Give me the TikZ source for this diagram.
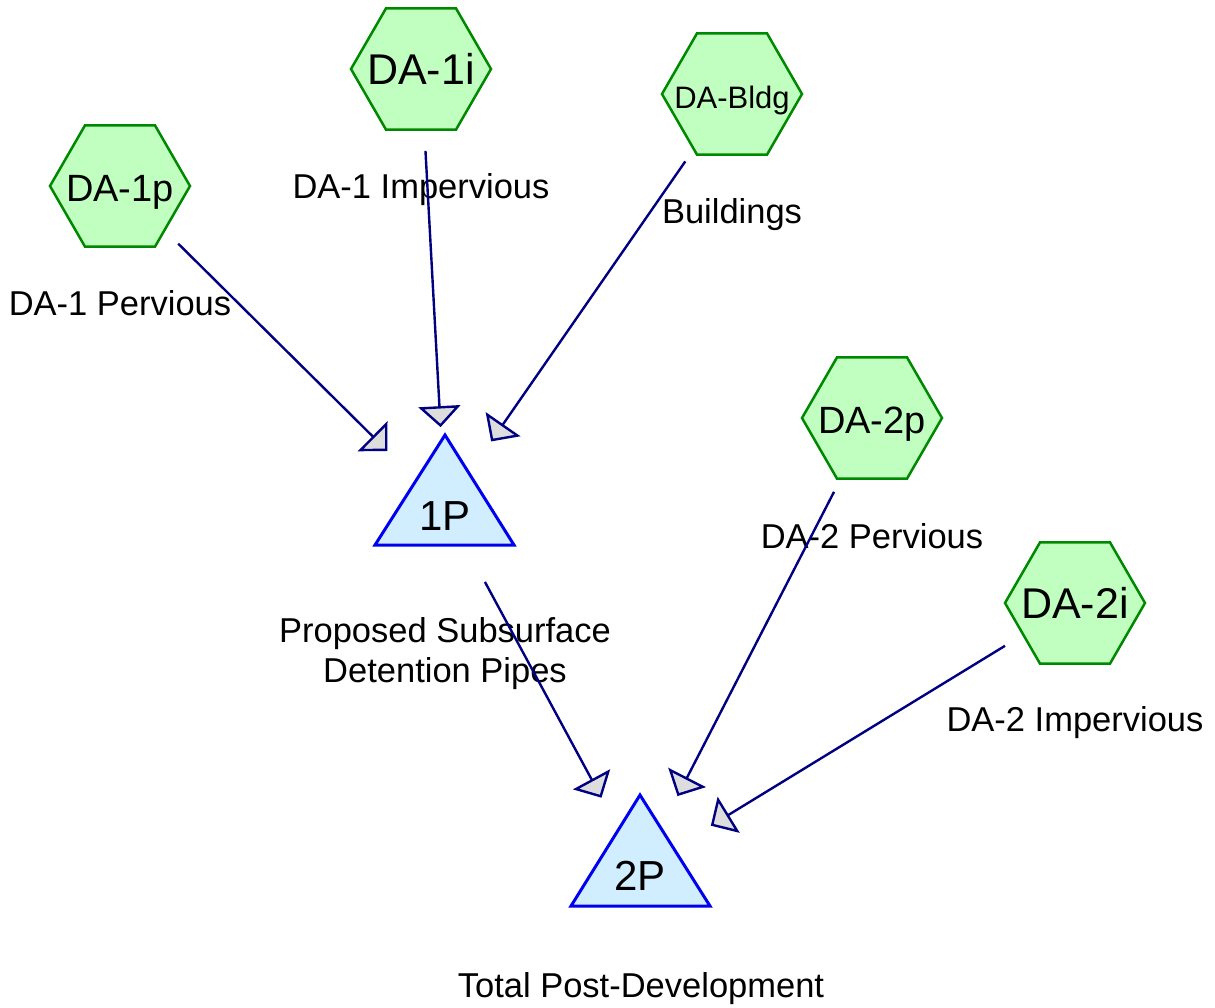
\documentclass[tikz,border=0pt]{standalone}
\usepackage{fontspec}
\setmainfont{Liberation Sans}
\usetikzlibrary{shapes.geometric,arrows.meta}
\definecolor{hexfill}{RGB}{192,255,192}
\definecolor{hexline}{RGB}{0,136,0}
\definecolor{pondfill}{RGB}{208,238,255}
\definecolor{pondline}{RGB}{0,0,240}
\definecolor{navyline}{RGB}{0,0,128}
\definecolor{headfill}{RGB}{221,221,221}
\begin{document}
\begin{tikzpicture}[x=1pt,y=-1pt,
  subcat/.style={regular polygon, regular polygon sides=6, minimum size=140pt,
    inner sep=0pt, draw=hexline, fill=hexfill, line width=2.5pt,
    font=\fontsize{43}{50}\selectfont, text height=31pt, text depth=0pt},
  pond/.style={draw=pondline, fill=pondfill, line width=3pt, line join=miter},
  pondtext/.style={anchor=base, inner sep=0pt, font=\fontsize{42}{50}\selectfont},
  lbl/.style={anchor=base, inner sep=0pt, font=\fontsize{34.5}{40}\selectfont, align=center},
  flow/.style={draw=navyline, line width=2.4pt, shorten <=82pt, shorten >=81pt,
    -{Triangle[length=21pt, width=42pt, fill=headfill]}}]
\useasboundingbox (0,0) rectangle (1215,1007);

% subcatchments
\node[subcat, font=\fontsize{38}{44}\selectfont, text height=31pt] (da1p) at (120,186) {\makebox[0pt]{DA-1p}};
\node[subcat] (da1i) at (421,69) {\makebox[0pt]{DA-1i}};
\node[subcat, font=\fontsize{31}{36}\selectfont, text height=28pt] (dabldg) at (732,94) {\makebox[0pt]{DA-Bldg}};
\node[subcat, font=\fontsize{38}{44}\selectfont, text height=30pt] (da2p) at (872,418) {\makebox[0pt]{DA-2p}};
\node[subcat] (da2i) at (1075,603) {\makebox[0pt]{DA-2i}};

% ponds
\coordinate (p1) at (445,508);
\coordinate (p2) at (640,869);
\draw[pond] (445,435) -- (514,545) -- (375,545) -- cycle;
\draw[pond] (640,795) -- (710,906) -- (571,906) -- cycle;
\node[pondtext] (p1t) at (445,530) {1P};
\node[pondtext] (p2t) at (640,890) {2P};

% labels
\node[lbl] (l1p) at (120,315) {DA-1 Pervious};
\node[lbl] (l1i) at (421,198) {DA-1 Impervious};
\node[lbl] (lbldg) at (732,223) {Buildings};
\node[lbl] (l2p) at (872,548) {DA-2 Pervious};
\node[lbl] (l2i) at (1075,731) {DA-2 Impervious};
\node[lbl] (lp1) at (445,682) {Proposed Subsurface\\Detention Pipes};
\node[lbl] (lp2) at (641,997) {Total Post-Development};

% connectors
\draw[flow] (da1p.center) -- (p1);
\draw[flow] (da1i.center) -- (p1);
\draw[flow] (dabldg.center) -- (p1);
\draw[flow, shorten <=84pt] (p1) -- (p2);
\draw[flow, shorten <=83pt, shorten >=82pt] (da2p.center) -- (p2);
\draw[flow, shorten >=83pt] (da2i.center) -- (p2);
\end{tikzpicture}
\end{document}
